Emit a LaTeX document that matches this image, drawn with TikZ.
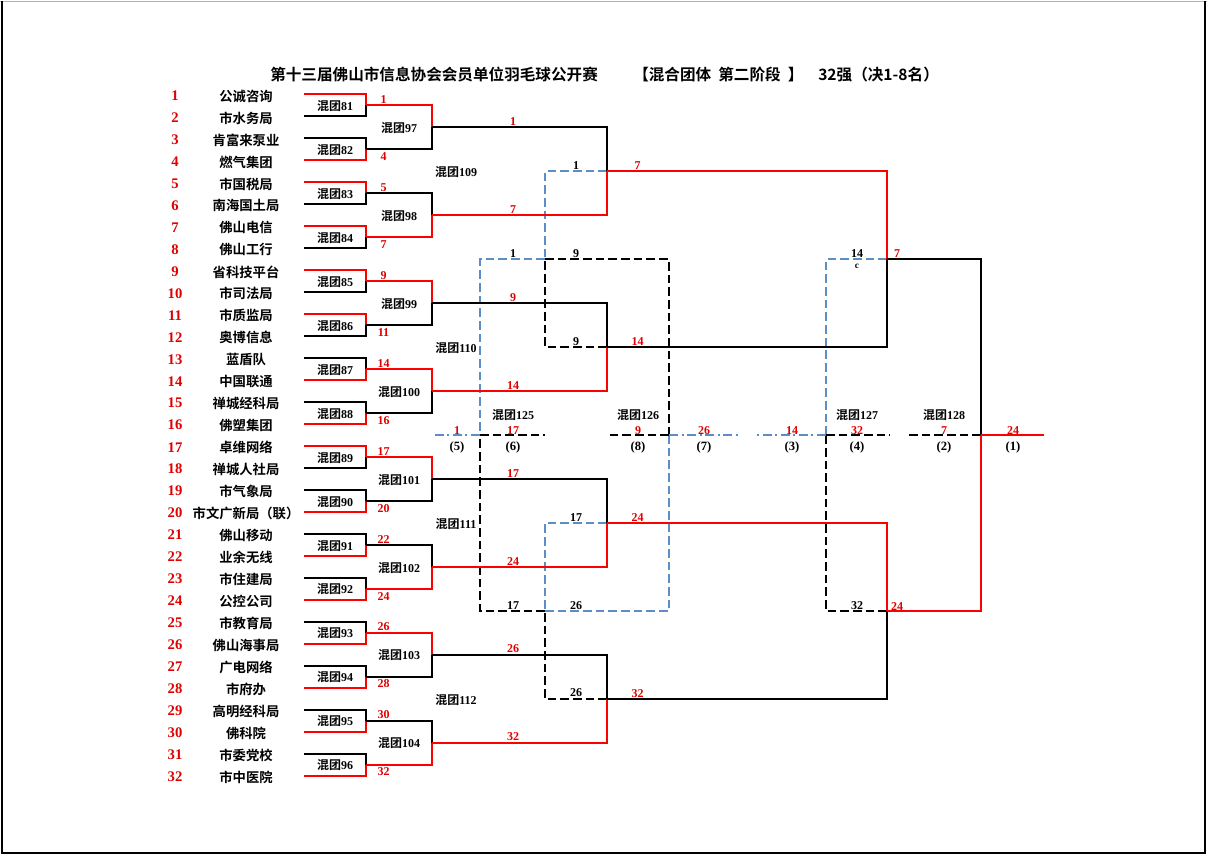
\documentclass[tikz,border=0pt]{standalone}
\usepackage{fontspec}
\setmainfont{Liberation Serif}
\newfontfamily\cjk[BoldFont={Noto Sans CJK SC Bold}]{Noto Sans CJK SC}
\usetikzlibrary{calc}
\definecolor{winred}{HTML}{FF0000}
\definecolor{numred}{HTML}{E00000}
\definecolor{losblue}{HTML}{5B8EC5}
\tikzset{
  win/.style={draw=winred, line width=1.5pt},
  lose/.style={draw=black, line width=1.5pt},
  bdash/.style={draw=losblue, line width=1.5pt, dash pattern=on 6.5pt off 3pt},
  kdash/.style={draw=black, line width=1.5pt, dash pattern=on 6.5pt off 3pt},
  bdot/.style={draw=losblue, line width=1.5pt, dash pattern=on 7pt off 2.5pt on 1.5pt off 2.5pt},
  seed/.style={font=\fontsize{11}{12}\selectfont\bfseries, text=numred, inner sep=0pt},
  team/.style={font=\fontsize{10}{11}\selectfont\cjk\bfseries, inner sep=0pt},
  tag/.style={font=\fontsize{9}{10}\selectfont\bfseries, inner sep=0pt},
  wnum/.style={font=\fontsize{9}{10}\selectfont\bfseries, text=numred, inner sep=0pt},
  knum/.style={font=\fontsize{9}{10}\selectfont\bfseries, inner sep=0pt},
  place/.style={font=\fontsize{9.5}{10}\selectfont\bfseries, inner sep=0pt},
  head/.style={font=\fontsize{11.7}{12}\selectfont\cjk\bfseries, inner sep=0pt, anchor=west}
}
\newcommand{\hun}[1]{{\cjk\bfseries 混团}#1}

\begin{document}
\begin{tikzpicture}[x=0.75pt,y=-0.75pt]
        \useasboundingbox (0,0) rectangle (1208,855);
        % frame
        \draw[gray!60,line width=0.6pt] (0,1) -- (1207,1);
        \draw[line width=1.5pt] (2,1) -- (2,852.5) -- (1205,852.5) -- (1205,1);

        % title
        \node[head] (title) at (270,75) {第十三届佛山市信息协会会员单位羽毛球公开赛};
        \node[head] (stage) at (633,75) {【混合团体\ \ 第二阶段\ \ 】};
        \node[head] (rank)  at (818,75) {32强（决1-8名）};

        % junctions
        \foreach \i in {1,...,32} \coordinate (t\i) at (304,{94.5+(\i-1)*21.98});
        \foreach \k in {1,...,16} \coordinate (j1-\k) at (366,{94.5+(2*\k-1.5)*21.98});
        \foreach \m in {1,...,8} \coordinate (j2-\m) at (432,{94.5+(4*\m-2.5)*21.98});
        \foreach \n in {1,...,4} \coordinate (j3-\n) at (607,{94.5+(8*\n-4.5)*21.98});
        \pgfmathsetmacro{\yA}{94.5+7.5*21.98}
        \pgfmathsetmacro{\yB}{94.5+23.5*21.98}
        \pgfmathsetmacro{\yF}{94.5+15.5*21.98}
        \coordinate (j4-1) at (887,\yA);
        \coordinate (j4-2) at (887,\yB);
        \coordinate (j5) at (981,\yF);
        \coordinate (champ) at (1044,\yF);
        \coordinate (k1) at (545,\yA);
        \coordinate (k2) at (545,\yB);
        \coordinate (m1) at (480,\yF);
        \coordinate (m2) at (669,\yF);
        \coordinate (m3) at (826,\yF);
        \coordinate (e5) at (432,\yF);
        \coordinate (e6) at (545,\yF);
        \coordinate (e8) at (607,\yF);
        \coordinate (e7) at (738,\yF);
        \coordinate (e3) at (757,\yF);
        \coordinate (e4) at (890,\yF);
        \coordinate (e2) at (906,\yF);

        % placing matches
        \draw[bdash] (j3-1) -| (k1);
        \draw[kdash] (j3-2) -| (k1);
        \draw[bdash] (j3-3) -| (k2);
        \draw[kdash] (j3-4) -| (k2);
        \draw[bdash] (k1) -| (m1);
        \draw[kdash] (k2) -| (m1);
        \draw[kdash] (k1) -| (m2);
        \draw[bdash] (k2) -| (m2);
        \draw[bdash] (j4-1) -| (m3);
        \draw[kdash] (j4-2) -| (m3);
        \draw[bdot] (m1) -- (e5);
        \draw[kdash] (m1) -- (e6);
        \draw[kdash] (m2) -- (e8);
        \draw[bdot] (m2) -- (e7);
        \draw[bdot] (m3) -- (e3);
        \draw[kdash] (m3) -- (e4);
        \draw[kdash] (j5) -- (e2);

        % main bracket
        \foreach \i/\s in {1/win,2/lose,3/lose,4/win,5/win,6/lose,7/win,8/lose,9/win,10/lose,11/win,12/lose,13/lose,14/win,15/lose,16/win,17/win,18/lose,19/lose,20/win,21/lose,22/win,23/lose,24/win,25/lose,26/win,27/lose,28/win,29/lose,30/win,31/lose,32/win}
          {\pgfmathtruncatemacro\k{ceil(\i/2)} \draw[\s] (t\i) -| (j1-\k);}
        \foreach \k/\s in {1/win,2/lose,3/lose,4/win,5/win,6/lose,7/win,8/lose,9/win,10/lose,11/lose,12/win,13/win,14/lose,15/lose,16/win}
          {\pgfmathtruncatemacro\m{ceil(\k/2)} \draw[\s] (j1-\k) -| (j2-\m);}
        \foreach \m/\s in {1/lose,2/win,3/lose,4/win,5/lose,6/win,7/lose,8/win}
          {\pgfmathtruncatemacro\n{ceil(\m/2)} \draw[\s] (j2-\m) -| (j3-\n);}
        \foreach \n/\s in {1/win,2/lose,3/win,4/lose}
          {\pgfmathtruncatemacro\p{ceil(\n/2)} \draw[\s] (j3-\n) -| (j4-\p);}
        \draw[lose] (j4-1) -| (j5);
        \draw[win] (j4-2) -| (j5);
        \draw[win] (j5) -- (champ);

        % teams
        \foreach \i/\t in {1/公诚咨询,2/市水务局,3/肯富来泵业,4/燃气集团,5/市国税局,6/南海国土局,7/佛山电信,8/佛山工行,9/省科技平台,10/市司法局,11/市质监局,12/奥博信息,13/蓝盾队,14/中国联通,15/禅城经科局,16/佛塑集团,17/卓维网络,18/禅城人社局,19/市气象局,20/市文广新局（联）,21/佛山移动,22/业余无线,23/市住建局,24/公控公司,25/市教育局,26/佛山海事局,27/广电网络,28/市府办,29/高明经科局,30/佛科院,31/市委党校,32/市中医院}
          {\node[seed] (s\i) at (175,{95.5+(\i-1)*21.98}) {\i};
           \node[team] (n\i) at (246,{96+(\i-1)*21.98}) {\t};}

        % match tags
        \foreach \k in {1,...,16}
          {\pgfmathtruncatemacro\g{80+\k} \node[tag] (g\g) at ($(j1-\k)+(-31,0.5)$) {\hun{\g}};}
        \foreach \m in {1,...,8}
          {\pgfmathtruncatemacro\g{96+\m} \node[tag] (g\g) at ($(j2-\m)+(-33,0.5)$) {\hun{\g}};}
        \foreach \n in {1,...,4}
          {\pgfmathtruncatemacro\g{108+\n} \node[tag] (g\g) at ($(j3-\n)+(-151,1)$) {\hun{\g}};}

        % winners
        \foreach \k/\w in {1/1,2/4,3/5,4/7,5/9,6/11,7/14,8/16,9/17,10/20,11/22,12/24,13/26,14/28,15/30,16/32}
          {\pgfmathsetmacro\dy{(mod(\k,2)==1) ? -6 : 7}
           \node[wnum] (w1-\k) at ($(j1-\k)+(17.5,\dy)$) {\w};}
        \foreach \m/\w in {1/1,2/7,3/9,4/14,5/17,6/24,7/26,8/32}
          \node[wnum] (w2-\m) at ($(j2-\m)+(81,-6)$) {\w};
        \foreach \n/\w in {1/7,2/14,3/24,4/32}
          \node[wnum] (w3-\n) at ($(j3-\n)+(30.5,-5.5)$) {\w};
        \node[wnum] (w4-1) at ($(j4-1)+(10,-5.5)$) {7};
        \node[wnum] (w4-2) at ($(j4-2)+(10,-5)$) {24};

        % losers
        \node[knum] (l3-1) at ($(j3-1)+(-31,-5.5)$) {1};
        \node[knum] (l3-2) at ($(j3-2)+(-31,-6)$) {9};
        \node[knum] (l3-3) at ($(j3-3)+(-31,-5.5)$) {17};
        \node[knum] (l3-4) at ($(j3-4)+(-31,-6)$) {26};
        \node[knum] (lk1a) at ($(k1)+(-32,-5.5)$) {1};
        \node[knum] (lk1b) at ($(k1)+(31,-5.5)$) {9};
        \node[knum] (lk2a) at ($(k2)+(-32,-5)$) {17};
        \node[knum] (lk2b) at ($(k2)+(31,-5)$) {26};
        \node[knum] (l4-1) at ($(j4-1)+(-30,-5.5)$) {14};
        \node[knum,font=\fontsize{7}{8}\selectfont\bfseries] (l4-c) at ($(j4-1)+(-30,6.5)$) {c};
        \node[knum] (l4-2) at ($(j4-2)+(-30,-5.5)$) {32};

        % places
        \foreach \x/\w/\pl in {457/1/5,513/17/6,638/9/8,704/26/7,792/14/3,857/32/4,944/7/2,1013/24/1}
          {\node[wnum] (f\pl) at (\x,\yF-5) {\w};
           \node[place] (p\pl) at (\x,\yF+12.5) {(\pl)};}
        \foreach \x/\g in {513/125,638/126,857/127,944/128}
          \node[tag] (g\g) at (\x,\yF-20.5) {\hun{\g}};
\end{tikzpicture}
\end{document}
